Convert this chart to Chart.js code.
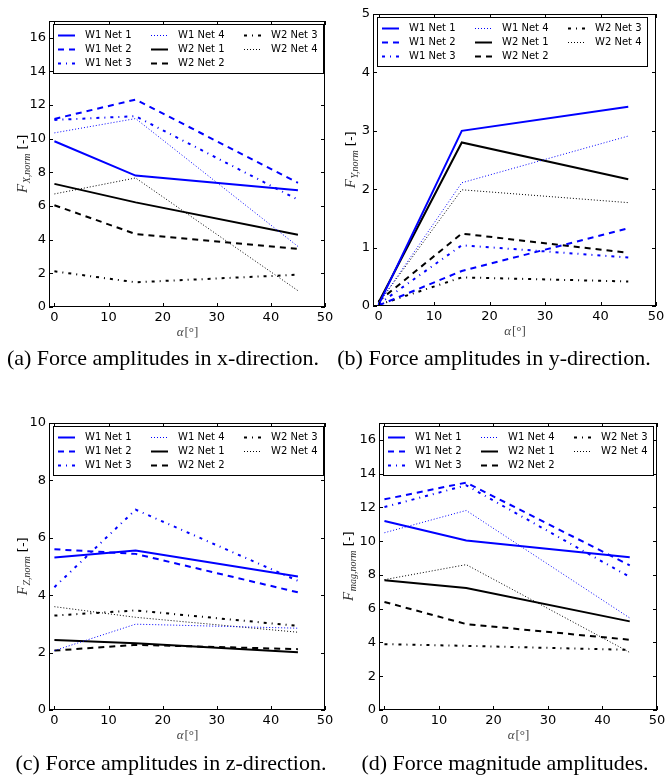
<!DOCTYPE html>
<html>
<head>
<meta charset="utf-8">
<script src="https://cdn.jsdelivr.net/npm/chart.js@4.4.1/dist/chart.umd.min.js"></script>
<style>
  body { margin: 0; background: #fff; }
  #page { position: relative; width: 667px; height: 783px; overflow: hidden; }
  canvas { position: absolute; }
  .cap {
    position: absolute;
    font-family: "Liberation Serif", serif;
    font-size: 22px;
    line-height: 24px;
    white-space: nowrap;
    transform: translateX(-50%);
    color: #000;
  }
</style>
</head>
<body>
<div id="page">
  <canvas id="fx" width="333" height="350" style="left:0;top:0"></canvas>
  <canvas id="fy" width="334" height="350" style="left:333px;top:0"></canvas>
  <canvas id="fz" width="333" height="360" style="left:0;top:395px"></canvas>
  <canvas id="fm" width="334" height="360" style="left:333px;top:395px"></canvas>
  <div class="cap" style="left:163px;top:346px">(a) Force amplitudes in x-direction.</div>
  <div class="cap" style="left:494px;top:346px">(b) Force amplitudes in y-direction.</div>
  <div class="cap" style="left:171px;top:751px">(c) Force amplitudes in z-direction.</div>
  <div class="cap" style="left:505px;top:751px">(d) Force magnitude amplitudes.</div>
</div>
<script>
// angle of attack, same for every series
const alpha = [0, 15, 45];
const xTicks = [0, 10, 20, 30, 40, 50];

const seriesNames = ["W1 Net 1", "W1 Net 2", "W1 Net 3", "W1 Net 4",
                     "W2 Net 1", "W2 Net 2", "W2 Net 3", "W2 Net 4"];

// x-direction, rows = Net 1..4
const fxW1 = [[9.85, 7.81, 6.94], [11.18, 12.33, 7.38], [11.12, 11.34, 6.38], [10.35, 11.2, 3.6]];
const fxW2 = [[7.32, 6.22, 4.3], [6.05, 4.34, 3.45], [2.12, 1.47, 1.92], [6.72, 7.67, 0.97]];
// y-direction
const fyW1 = [[0.02, 3.0, 3.41], [0.01, 0.6, 1.33], [0.03, 1.04, 0.83], [0.04, 2.11, 2.91]];
const fyW2 = [[0.06, 2.8, 2.17], [0.08, 1.24, 0.91], [0.02, 0.49, 0.42], [0.05, 1.99, 1.77]];
// z-direction
const fzW1 = [[5.31, 5.56, 4.65], [5.6, 5.44, 4.1], [4.28, 6.98, 4.5], [2.07, 2.99, 2.85]];
const fzW2 = [[2.44, 2.33, 2.01], [2.07, 2.27, 2.12], [3.29, 3.47, 2.93], [3.6, 3.23, 2.71]];
// magnitude
const fmW1 = [[11.19, 10.04, 9.05], [12.48, 13.47, 8.57], [12.02, 13.31, 7.88], [10.5, 11.82, 5.45]];
const fmW2 = [[7.68, 7.23, 5.25], [6.4, 5.09, 4.16], [3.9, 3.8, 3.56], [7.72, 8.61, 3.41]];

const yTicks16 = [0, 2, 4, 6, 8, 10, 12, 14, 16];
const yTicks5 = [0, 1, 2, 3, 4, 5];
const yTicks10 = [0, 2, 4, 6, 8, 10];

// line styles per net (same for both wakes)
const netDash = [[], [6, 5], [3, 5, 1, 5], [1, 2]];
const netWidth = [2, 2, 2, 1];
const wakeColor = ["#0000ff", "#000000"];

function makeSets(w1, w2) {
  const sets = [];
  [w1, w2].forEach((wake, wi) => {
    wake.forEach((vals, ni) => {
      sets.push({
        label: seriesNames[wi * 4 + ni],
        data: alpha.map((a, i) => ({ x: a, y: vals[i] })),
        borderColor: wakeColor[wi],
        borderWidth: netWidth[ni],
        borderDash: netDash[ni],
        pointRadius: 0,
        tension: 0,
        fill: false,
      });
    });
  });
  return sets;
}

const frame = {
  id: "frame",
  afterDraw(chart, args, opts) {
    const { ctx, chartArea: a, scales } = chart;
    ctx.save();
    ctx.strokeStyle = "#000";
    ctx.lineWidth = 1;
    ctx.setLineDash([]);
    ctx.strokeRect(a.left + 0.5, a.top + 0.5, a.right - a.left - 1, a.bottom - a.top - 1);

    // inward ticks on all four sides
    ctx.beginPath();
    scales.x.ticks.forEach((t) => {
      const p = Math.round(scales.x.getPixelForValue(t.value)) + 0.5;
      ctx.moveTo(p, a.bottom); ctx.lineTo(p, a.bottom - 4);
      ctx.moveTo(p, a.top); ctx.lineTo(p, a.top + 4);
    });
    scales.y.ticks.forEach((t) => {
      const p = Math.round(scales.y.getPixelForValue(t.value)) + 0.5;
      ctx.moveTo(a.left, p); ctx.lineTo(a.left + 4, p);
      ctx.moveTo(a.right, p); ctx.lineTo(a.right - 4, p);
    });
    ctx.stroke();

    // legend, 3 columns filled top to bottom
    const lx = a.left + 4, ly = a.top + 3;
    const lw = 270, lh = 49;
    ctx.fillStyle = "#fff";
    ctx.fillRect(lx, ly, lw, lh);
    ctx.strokeRect(lx + 0.5, ly + 0.5, lw, lh);
    ctx.font = '10px "DejaVu Sans"';
    ctx.textBaseline = "middle";
    chart.data.datasets.forEach((ds, k) => {
      const col = Math.floor(k / 3), row = k % 3;
      const hx = lx + 5 + col * 93;
      const hy = Math.round(ly + 11 + row * 14) + 0.5;
      ctx.strokeStyle = ds.borderColor;
      ctx.lineWidth = ds.borderWidth;
      ctx.setLineDash(ds.borderDash);
      ctx.beginPath();
      ctx.moveTo(hx, hy); ctx.lineTo(hx + 17, hy);
      ctx.stroke();
      ctx.fillStyle = "#000";
      ctx.fillText(ds.label, hx + 27, hy);
    });
    ctx.setLineDash([]);

    // y title: F_{sub} [-], rotated
    ctx.fillStyle = "#333";
    ctx.save();
    ctx.translate(opts.titleX, (a.top + a.bottom) / 2);
    ctx.rotate(-Math.PI / 2);
    ctx.textBaseline = "alphabetic";
    ctx.font = 'italic 15px "Liberation Serif"';
    const wF = ctx.measureText("F").width;
    ctx.font = 'italic 10px "Liberation Serif"';
    const wS = ctx.measureText(opts.sub).width;
    ctx.font = '13px "DejaVu Sans"';
    const wB = ctx.measureText(" [-]").width;
    let x0 = -(wF + wS + wB) / 2;
    ctx.font = 'italic 15px "Liberation Serif"';
    ctx.fillText("F", x0, 5);
    ctx.font = 'italic 10px "Liberation Serif"';
    ctx.fillText(opts.sub, x0 + wF + 0.5, 8);
    ctx.font = '13px "DejaVu Sans"';
    ctx.fillStyle = "#000";
    ctx.fillText(" [-]", x0 + wF + wS + 0.5, 5);
    ctx.restore();

    // x title: alpha [deg]
    ctx.fillStyle = "#444";
    ctx.textBaseline = "middle";
    ctx.font = 'italic 13px "Liberation Serif"';
    const wA = ctx.measureText("α").width;
    ctx.font = '13px "Liberation Serif"';
    const wD = ctx.measureText("[°]").width;
    const cx = (a.left + a.right) / 2 - (wA + wD) / 2;
    ctx.font = 'italic 13px "Liberation Serif"';
    ctx.fillText("α", cx, a.bottom + 26);
    ctx.font = '13px "Liberation Serif"';
    ctx.fillText("[°]", cx + wA + 1, a.bottom + 26);
    ctx.restore();
  },
};

// box = plot area inside its canvas: left, top, right, bottom (canvas px)
function makeChart(id, sets, yMax, yTicks, box, sub, titleX) {
  const cv = document.getElementById(id);
  const W = cv.width, H = cv.height;
  return new Chart(cv, {
    type: "line",
    data: { datasets: sets },
    options: {
      responsive: false,
      animation: false,
      events: [],
      layout: { padding: { left: 0, top: box[1], right: W - box[2], bottom: 0 } },
      plugins: { legend: { display: false }, tooltip: { enabled: false }, frame: { sub, titleX } },
      scales: {
        x: {
          type: "linear",
          min: -1,
          max: 50,
          grid: { display: false, drawTicks: false, tickLength: 0 },
          border: { display: false },
          afterBuildTicks: (s) => { s.ticks = xTicks.map((v) => ({ value: v })); },
          afterFit: (s) => { s.height = H - box[3]; s.paddingLeft = 0; s.paddingRight = 0; },
          ticks: { color: "#000", font: { family: "DejaVu Sans", size: 13 }, padding: 3, maxRotation: 0, autoSkip: false },
        },
        y: {
          type: "linear",
          min: 0,
          max: yMax,
          grid: { display: false, drawTicks: false, tickLength: 0 },
          border: { display: false },
          afterBuildTicks: (s) => { s.ticks = yTicks.map((v) => ({ value: v })); },
          afterFit: (s) => { s.width = box[0]; s.paddingTop = 0; s.paddingBottom = 0; },
          ticks: { color: "#000", font: { family: "DejaVu Sans", size: 13 }, padding: 3, autoSkip: false },
        },
      },
    },
    plugins: [frame],
  });
}

makeChart("fx", makeSets(fxW1, fxW2), 17, yTicks16, [49, 21, 325, 307], "X,norm", 22);
makeChart("fy", makeSets(fyW1, fyW2), 5, yTicks5, [40, 14, 323, 306], "Y,norm", 17);
makeChart("fz", makeSets(fzW1, fzW2), 10, yTicks10, [49, 28, 325, 315], "Z,norm", 22);
makeChart("fm", makeSets(fmW1, fmW2), 17, yTicks16, [46, 28, 324, 315], "mag,norm", 15);
</script>
</body>
</html>
